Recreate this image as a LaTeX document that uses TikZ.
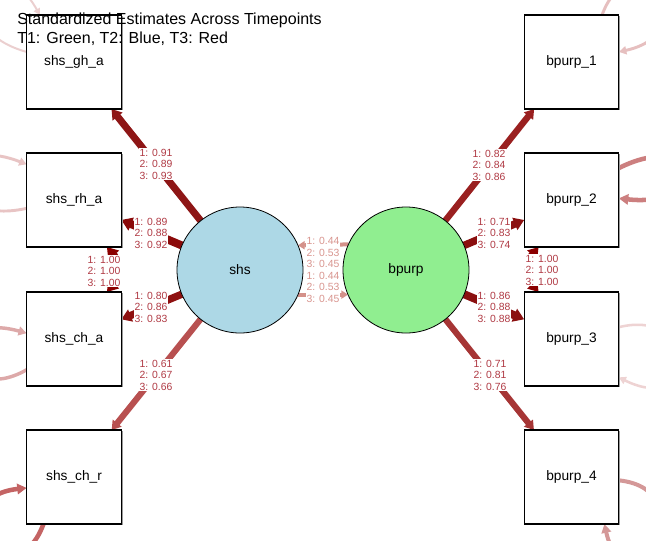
\documentclass[tikz,border=0pt]{standalone}
\usepackage{fontspec}
\setmainfont{Liberation Sans}
\usetikzlibrary{arrows.meta,shadows,backgrounds}
\definecolor{loadA}{HTML}{8E1616}
\definecolor{loadB}{HTML}{8B0A0A}
\definecolor{loadC}{HTML}{8E1010}
\definecolor{loadD}{HTML}{B85050}
\definecolor{loadE}{HTML}{9A2020}
\definecolor{loadF}{HTML}{8B0F0F}
\definecolor{loadG}{HTML}{8B1010}
\definecolor{loadH}{HTML}{A63535}
\definecolor{covL}{HTML}{D4918A}
\definecolor{covD}{HTML}{8B0000}
\definecolor{labred}{HTML}{B03A44}
\definecolor{lablight}{HTML}{D9958F}
\definecolor{shsfill}{HTML}{ADD8E6}
\definecolor{bpfill}{HTML}{90EE90}
\definecolor{rA}{HTML}{EBCFCF}
\definecolor{rB}{HTML}{E8C4C4}
\definecolor{rC}{HTML}{DDA9A9}
\definecolor{rD}{HTML}{C46464}
\definecolor{rE}{HTML}{E6BFBF}
\definecolor{rF}{HTML}{CC7F7F}
\definecolor{rG}{HTML}{EED3D3}
\definecolor{rH}{HTML}{D49898}
\tikzset{
  mbox/.style={draw=black, fill=white, line width=0.8pt, minimum width=71pt,
    minimum height=70.5pt, inner sep=0pt, outer sep=0pt,
    font=\fontsize{10.3}{12}\selectfont,
    drop shadow={shadow xshift=0.9pt, shadow yshift=-0.9pt, fill=black!40, opacity=1}},
  lat/.style={circle, draw=black, line width=0.6pt, minimum size=94.5pt,
    inner sep=0pt, outer sep=0pt, font=\fontsize{10.3}{12}\selectfont},
  load/.style={line width=#1, -{Triangle[length=2pt 1.0, width=2pt 1.35]}},
  cov/.style={line width=#1, {Triangle[length=2pt 1.0, width=2pt 1.35]}-{Triangle[length=2pt 1.0, width=2pt 1.35]}},
  resid/.style={line width=#1, -{Triangle[length=3pt 1.2, width=3pt 1.4]}},
  lab/.style={font=\fontsize{7.8}{8.6}\selectfont, align=center, fill=white,
    inner sep=0.4pt, text=labred},
  labl/.style={lab, text=lablight},
  ttl/.style={font=\fontsize{12}{14.2}\selectfont, align=left, anchor=north west, inner sep=0pt}
}
\begin{document}
\begin{tikzpicture}[x=0.75pt,y=-0.75pt]
\useasboundingbox (0,0) rectangle (646,540);
\clip (0,0) rectangle (646,540);

% manifest boxes
\node[mbox] (ghA) at (74,62)  {shs\_gh\_a};
\node[mbox] (rhA) at (74,200) {shs\_rh\_a};
\node[mbox] (chA) at (74,339) {shs\_ch\_a};
\node[mbox] (chR) at (74,477) {shs\_ch\_r};
\node[mbox] (bp1) at (571.5,62)  {bpurp\_1};
\node[mbox] (bp2) at (571.5,200) {bpurp\_2};
\node[mbox] (bp3) at (571.5,339) {bpurp\_3};
\node[mbox] (bp4) at (571.5,477) {bpurp\_4};

% latent circles
\node[lat, fill=shsfill] (shs) at (240,270) {shs};
\node[lat, fill=bpfill] (bpurp) at (406,270) {bpurp};

\begin{scope}[on background layer]
% loadings
\draw[load=5.3pt, loadA] (shs) -- (ghA);
\draw[load=6pt,   loadB] (shs) -- (rhA);
\draw[load=5.5pt, loadC] (shs) -- (chA);
\draw[load=4.6pt, loadD] (shs) -- (chR);
\draw[load=4.8pt, loadE] (bpurp) -- (bp1);
\draw[load=5.6pt, loadF] (bpurp) -- (bp2);
\draw[load=6pt,   loadG] (bpurp) -- (bp3);
\draw[load=4.6pt, loadH] (bpurp) -- (bp4);
% latent covariances
\draw[load=3pt, covL] (bpurp.156.6) -- (shs.23.4);
\draw[load=3pt, covL] (shs.-23.4) -- (bpurp.203.4);
% residual covariances
\draw[cov=6pt, covD] (rhA.-55) to[out=-50,in=50] (chA.55);
\draw[cov=5.5pt, covD] (bp2.-125) to[out=-130,in=130] (bp3.125);
% residual variances
\draw[resid=1.5pt, rA] (ghA.168) .. controls +(-90,-25) and +(-45,-80) .. (ghA.126);
\draw[resid=2.2pt, rB] (rhA.190) .. controls +(-90,20) and +(-90,-35) .. (rhA.143);
\draw[resid=2.6pt, rC] (chA.213) .. controls +(-70,40) and +(-90,-25) .. (chA.173);
\draw[resid=3.4pt, rD] (chR.237) .. controls +(-30,80) and +(-90,10) .. (chR.193);
\draw[resid=2.2pt, rE] (bp1.57) .. controls +(30,-80) and +(90,-20) .. (bp1.12);
\draw[resid=3.4pt, rF] (bp2.34) .. controls +(80,-40) and +(90,10) .. (bp2.2);
\draw[resid=1.9pt, rG] (bp3.14) .. controls +(80,-20) and +(80,40) .. (bp3.-39);
\draw[resid=3pt, rH] (bp4.-4) .. controls +(90,10) and +(20,90) .. (bp4.-55);
\end{scope}

% edge labels
\node[lab] (lgh) at (156,164) {1: 0.91\\2: 0.89\\3: 0.93};
\node[lab] (lrh) at (151,233) {1: 0.89\\2: 0.88\\3: 0.92};
\node[lab] (lch) at (151,307) {1: 0.80\\2: 0.86\\3: 0.83};
\node[lab] (lcr) at (156,375) {1: 0.61\\2: 0.67\\3: 0.66};
\node[lab] (lrc) at (104,271) {1: 1.00\\2: 1.00\\3: 1.00};
\node[lab] (lb1) at (489,165) {1: 0.82\\2: 0.84\\3: 0.86};
\node[lab] (lb2) at (494,233) {1: 0.71\\2: 0.83\\3: 0.74};
\node[lab] (lb3) at (494,307) {1: 0.86\\2: 0.88\\3: 0.88};
\node[lab] (lb4) at (490,375) {1: 0.71\\2: 0.81\\3: 0.76};
\node[lab] (lbc) at (542,270) {1: 1.00\\2: 1.00\\3: 1.00};
\node[labl] (lsb) at (323,270) {1: 0.44\\2: 0.53\\3: 0.45\\1: 0.44\\2: 0.53\\3: 0.45};

% title
\node[ttl] (title) at (17,13) {Standardized Estimates Across Timepoints\\T1: Green, T2: Blue, T3: Red};
\end{tikzpicture}
\end{document}
